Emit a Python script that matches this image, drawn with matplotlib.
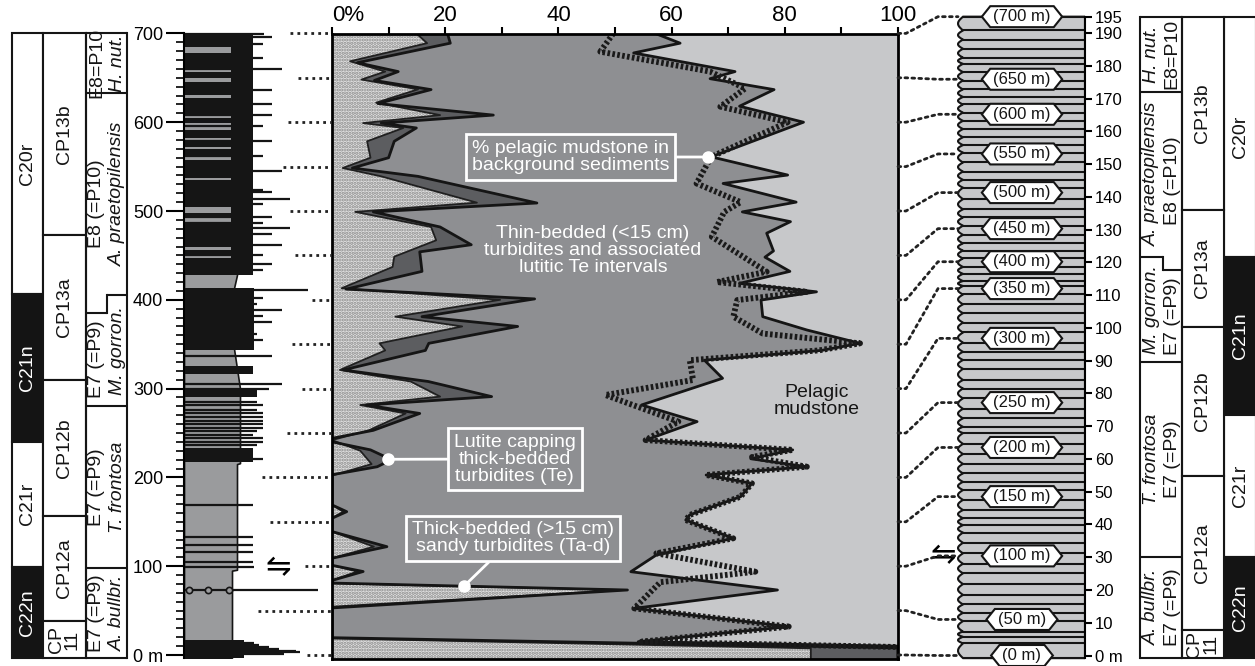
import matplotlib
matplotlib.use('Agg')
import matplotlib.pyplot as plt
from matplotlib.patches import Rectangle, ConnectionPatch
from matplotlib.path import Path
import numpy as np

plt.rcParams['font.family'] = ['Liberation Sans', 'DejaVu Sans']
plt.rcParams['hatch.linewidth'] = 1.6

# ---------------- main panel: facies % against depth (m) ----------------
sand_depth = [700, 689, 668.6, 657, 648, 637, 622, 608, 599, 593.5, 578.5, 560, 548.4, 539,
              509.4, 499, 482, 467, 448.6, 437, 413, 400, 381, 370, 351, 343, 321, 308, 291,
              281.5, 272, 253, 242, 230, 215, 202, 169, 161.4, 154, 139, 122, 109, 101, 94,
              84, 80.7, 73.2, 54.4, 18.7, 7.5, -5]
sand_pct = [14.9, 16.8, 3.2, 9.4, 5.2, 15.2, 7.8, 19.1, 5.5, 12.6, 6.2, 6.8, 1.9, 8.7,
            25.6, 4.1, 17.5, 18.4, 11.0, 10.7, 1.7, 29.7, 11.2, 23.0, 8.4, 9.4, 1.4, 13.9, 19.1,
            5.0, 13.0, 6.5, 0, 5.0, 7.0, 0, 0, 2.0, 0, 0, 7.4, 0, 0, 4.5,
            0, 0, 51.5, 0, 0, 84.6, 84.6]

lutite_depth = [700, 689, 667, 657, 647, 636.7, 621, 608, 599, 593.5, 578.5, 560, 548.4, 539,
                509, 499, 482, 462, 454, 432, 412, 401, 381, 370, 351, 343, 321, 308, 291,
                281.5, 272, 253, 244, 240, 231, 220, 212, 203, 169, 161.4, 154, 139, 122, 109,
                101, 94, 84, 81, 73.2, 53, 19.5, 8, -5]
lutite_pct = [20.4, 20.9, 4.5, 11.7, 7.5, 17.5, 8.1, 28.5, 8.7, 14.9, 11.0, 10.0, 3.6, 15.2,
              36.2, 7.3, 19.1, 24.6, 15.5, 15.9, 2.5, 35.8, 15.9, 32.8, 17.1, 16.5, 2.0, 17.0, 28.2,
              6.1, 15.5, 7.3, 0, 0, 6.8, 10.5, 8.0, 0, 0, 2.6, 0, 0, 9.7, 0,
              0, 5.5, 0, 0, 52.2, 0, 0, 100, 100]

thin_depth = [700, 689, 678, 657, 649, 636.7, 618, 600, 561, 540.5, 531, 510, 499, 488, 475,
              455, 448, 432, 418.5, 409, 399.7, 381, 366, 351, 343, 332, 311.6, 281.6, 262.8,
              242, 231, 221, 212, 202.7, 193.3, 178.3, 157.7, 152, 131.4, 112.6, 93.8, 73.2,
              52.5, 32, 15, 10, -5]
thin_pct = [57.1, 61.5, 53.3, 71.2, 66.8, 78.1, 72.0, 83.3, 67.0, 80.5, 69.1, 82.0, 72.5, 81.0, 76.8,
            78.0, 76.5, 80.9, 72.0, 85.6, 75.8, 76.1, 83.9, 93.3, 86.5, 65.8, 69.0, 54.7, 64.5,
            55.4, 81.4, 74.0, 83.9, 66.1, 74.2, 72.2, 63.2, 62.5, 70.9, 57.3, 52.8, 78.7,
            53.4, 80.7, 54.1, 100, 100]

bg_depth = [700, 679.4, 657, 638, 617.5, 600, 561, 531, 510, 499, 471, 431.6, 420, 409, 399.7,
            381, 362, 351, 343, 332, 309.7, 292.8, 262.8, 242, 231, 223, 212, 202.7, 193.3,
            178.3, 157.7, 152, 131.4, 114.5, 93.8, 82, 52.5, 32, 15, 9]
bg_pct = [49.7, 47.4, 66.8, 73.0, 68.6, 80.5, 67.0, 64.4, 72.2, 69.3, 67.1, 76.8, 68.0, 84.0, 71.6,
          70.9, 76.1, 93.3, 86.0, 63.2, 63.8, 48.3, 61.2, 55.4, 81.4, 74.2, 83.9, 66.1, 74.2,
          72.2, 63.2, 62.5, 70.9, 57.3, 74.8, 58.0, 53.4, 80.7, 54.7, 100]

# ---------------- lithological log ----------------
col_depth = [-3, 95, 96, 215, 216, 300, 345, 413, 428, 700]
col_width = [48, 48, 53, 53, 56, 56, 50, 50, 53, 47]
block_base = [-3, 217, 291, 317, 343, 428]
block_top = [17, 233, 300, 325, 413, 700]
block_ext = [60, 69, 73, 69, 70, 69]
grey_base = [446.7, 456, 488, 497.3, 534.9, 557.4, 569.4, 578, 591.2, 604.3, 626.9, 645.6, 656.9, 677.5]
grey_top = [450.4, 459.8, 493.6, 504.9, 536.8, 563, 572.4, 581.8, 598.7, 608, 630.6, 649.4, 660.7, 685]
bar_depth = [1, 3, 5, 7, 9, 11, 14, 73, 98.7, 105, 116.4, 124, 133, 169, 221, 236, 240, 244,
             248, 252, 256, 260, 264, 268, 272, 276, 281, 285, 300, 304.8, 337, 355, 362, 375,
             382, 389, 395, 402, 411, 433, 440, 451, 462, 474, 481, 486, 493, 508, 513, 521,
             524, 545, 562, 579, 596, 608, 621, 636, 660, 672, 688, 696, 699]
bar_ext = [100, 116, 112, 95, 85, 75, 70, 134, 70, 69, 69, 69, 69, 69, 79, 73, 79, 79,
           69, 73, 79, 79, 79, 79, 79, 73, 79, 73, 85, 98, 88, 79, 73, 88,
           79, 98, 73, 79, 124, 79, 88, 79, 98, 88, 106, 79, 88, 79, 106, 88,
           79, 98, 79, 88, 79, 88, 88, 88, 98, 79, 79, 88, 80]
conn_depth = [0, 50, 100, 150, 200, 250, 300, 350, 400, 450, 500, 550, 600, 650, 700]
conn_start = [123, 74, 121, 86, 78, 103, 118, 108, 128, 111, 106, 99, 104, 114, 106]

# ---------------- thickness column (right) ----------------
bed_bounds = [-0.8, 3.7, 5.7, 7.3, 10.5, 13, 15.6, 18.5, 21.8, 25.1, 28, 31.2, 34.4, 37.5, 39.8,
              41.9, 44.4, 47.5, 50.5, 53, 55.6, 58.5, 61.5, 64.6, 67.9, 69.8, 72.4, 75.3, 78.5,
              81.5, 84.1, 87.5, 90.2, 92.7, 95.5, 98.6, 101.6, 104.5, 107.2, 110.2, 112.8, 114.3,
              116.5, 118.6, 121.2, 123.6, 125.8, 128.4, 131.2, 133.7, 136.2, 139.3, 142.8, 145.2,
              147.7, 150.5, 153.5, 155.8, 158.2, 160.7, 163.2, 165.7, 168.2, 170.5, 172.8, 175.5,
              178.1, 180.6, 182.5, 185.2, 188, 190.8, 195]
label_h = [0, 11.0, 30.4, 48.5, 63.5, 77.2, 96.8, 112.0, 120.2, 130.3, 141.3, 153.1, 165.2, 175.9, 195.0]
right_ticks = [0, 10, 20, 30, 40, 50, 60, 70, 80, 90, 100, 110, 120, 130, 140, 150, 160, 170, 180, 190, 195]

# ---------------- biostratigraphy ----------------
chron_names = ['C20r', 'C21n', 'C21r', 'C22n']
chron_fill = ['white', '#141414', 'white', '#141414']
chron_left = [700, 407, 240, 99.4, -3.4]
chron_right = [195, 121.7, 73.4, 30.2, -0.8]
cp_names = ['CP13b', 'CP13a', 'CP12b', 'CP12a', 'CP\n11']
cp_left = [700, 473, 309.7, 156.5, 38.3, -3.4]
cp_right = [195, 136.0, 100.4, 54.9, 7.8, -0.8]
pf_zone = ['E8=P10', 'E8 (=P10)', 'E7 (=P9)', 'E7 (=P9)', 'E7 (=P9)']
pf_taxon = ['H. nut.', 'A. praetopilensis', 'M. gorron.', 'T. frontosa', 'A. bullbr.']
pf_zone_left = [700, 632.6, 384.8, 280.4, 97.6, -3.4]
pf_taxon_left = [700, 632.6, 405.4, 280.4, 97.6, -3.4]
pf_zone_right = [195, 172.1, 117.7, 89.5, 30.2, -0.8]
pf_taxon_right = [195, 172.1, 121.7, 89.5, 30.2, -0.8]

LIGHT = '#c7c8ca'
MID = '#8e8f92'
DARK = '#5c5d60'
INK = '#151515'

W, H = 1255, 666


def rect(x0, y0, x1, y1):
    return [x0 / W, 1 - y1 / H, (x1 - x0) / W, (y1 - y0) / H]


def depth_at(py):
    return (655 - py) / 0.888


def height_at(py):
    return (655.5 - py) / 3.276


def hexagon(x0, y0, width, height, mutation_size):
    pad = 0.18 * mutation_size
    x0, y0 = x0 - pad, y0 - pad
    w, h = width + 2 * pad, height + 2 * pad
    tip = 0.4 * h
    verts = [(x0, y0), (x0 + w, y0), (x0 + w + tip, y0 + h / 2), (x0 + w, y0 + h),
             (x0, y0 + h), (x0 - tip, y0 + h / 2), (x0, y0)]
    return Path(verts, closed=True)


fig = plt.figure(figsize=(12.55, 6.66), dpi=100)

# ---- main panel ----
ax = fig.add_axes(rect(332, 34, 898, 659))
ax.set_xlim(0, 100)
ax.set_ylim(depth_at(659), depth_at(34))
ax.set_facecolor(LIGHT)
ax.fill([0] + thin_pct + [0], [thin_depth[0]] + thin_depth + [thin_depth[-1]], color=MID, lw=0)
ax.fill([0] + lutite_pct + [0], [lutite_depth[0]] + lutite_depth + [lutite_depth[-1]], color=DARK, lw=0)
ax.fill([0] + sand_pct + [0], [sand_depth[0]] + sand_depth + [sand_depth[-1]],
        facecolor='#e2e2e2', edgecolor='#8a8a8a', hatch='.....', lw=0)
ax.plot(sand_pct, sand_depth, color='#202020', lw=1.3)
ax.plot(lutite_pct, lutite_depth, color=INK, lw=2)
ax.plot(thin_pct, thin_depth, color=INK, lw=2)
ax.plot(bg_pct, bg_depth, color='#1a1a1a', lw=4.2, dashes=(0.45, 0.4))

for s in ax.spines.values():
    s.set_linewidth(2)
ax.xaxis.tick_top()
ax.set_xticks([0, 20, 40, 60, 80, 100])
ax.set_xticklabels(['0%', '20', '40', '60', '80', '100'], fontsize=16)
ax.set_xticks([10, 30, 50, 70, 90], minor=True)
ax.tick_params(axis='x', which='both', direction='out', length=5, width=1.5, pad=1)
ax.get_xticklabels()[0].set_horizontalalignment('left')
ax.set_yticks([])

box = dict(boxstyle='square,pad=0.3', fc=MID, ec='white', lw=2)
arrow = dict(arrowstyle='-', color='white', lw=2, shrinkA=0, shrinkB=0)
ax.annotate('% pelagic mudstone in\nbackground sediments', xy=(66.4, 560.8), xytext=(42.2, 560.8),
            ha='center', va='center', color='white', fontsize=14, linespacing=1.0,
            bbox=box, arrowprops=arrow)
ax.annotate('Lutite capping\nthick-bedded\nturbidites (Te)', xy=(9.95, 220.4), xytext=(32.3, 220.7),
            ha='center', va='center', color='white', fontsize=14, linespacing=1.0,
            bbox=box, arrowprops=arrow)
ax.annotate('Thick-bedded (>15 cm)\nsandy turbidites (Ta-d)', xy=(23.4, 78), xytext=(32.0, 131.2),
            ha='center', va='center', color='white', fontsize=14, linespacing=1.0,
            bbox=box, arrowprops=arrow)
ax.plot([66.4, 9.95, 23.4], [560.8, 220.4, 78], 'o', color='white', ms=8)
ax.text(46.1, 456, 'Thin-bedded (<15 cm)\nturbidites and associated\nlutitic Te intervals',
        ha='center', va='center', color='white', fontsize=14, linespacing=1.0)
ax.text(85.7, 286, 'Pelagic\nmudstone', ha='center', va='center', color=INK, fontsize=14,
        linespacing=1.0)

# ---- lithological log ----
lx = fig.add_axes(rect(184, 25, 332, 662))
lx.set_xlim(0, 148)
lx.set_ylim(depth_at(662), depth_at(25))
lx.patch.set_alpha(0)
for s in ['top', 'right', 'bottom']:
    lx.spines[s].set_visible(False)
lx.spines['left'].set_bounds(-3, 700)
lx.spines['left'].set_linewidth(1.5)
lx.fill_betweenx(col_depth, 0, col_width, color='#9a9b9d', ec=INK, lw=1.2)
for b, t, e in zip(block_base, block_top, block_ext):
    lx.add_patch(Rectangle((0, b), e, t - b, color=INK, lw=0))
for b, t in zip(grey_base, grey_top):
    lx.add_patch(Rectangle((0, b), 47, t - b, color='#9a9b9d', lw=0))
lx.hlines(bar_depth, 0, bar_ext, color=INK, lw=1.6)
lx.plot([0, 48], [73.2, 73.2], ls='--', color=INK, lw=1.2)
lx.plot([5, 24, 45], [73.2, 73.2, 73.2], 'o', mfc='#9a9b9d', mec=INK, ms=4.5, mew=1.2)
for d, s in zip(conn_depth, conn_start):
    lx.plot([s, 148], [d, d], color='#222222', lw=2, ls=(0, (1, 1.5)))
lx.text(94, 98.5, '\u21cb', ha='center', va='center', fontsize=22, family='DejaVu Sans')
lx.set_xticks([])
lx.set_yticks(range(0, 701, 100))
lx.set_yticklabels(['0 m'] + [str(v) for v in range(100, 701, 100)])
lx.set_yticks(range(0, 701, 10), minor=True)
lx.tick_params(axis='y', which='major', length=13, width=1.5, labelsize=13, pad=2)
lx.tick_params(axis='y', which='minor', length=6, width=1.2)
for t in lx.get_yticklabels():
    t.set_fontfamily(['Liberation Sans Narrow', 'Liberation Sans'])

# ---- left biostratigraphy ----
sx = fig.add_axes(rect(0, 25, 140, 662))
sx.set_xlim(0, 140)
sx.set_ylim(depth_at(662), depth_at(25))
sx.axis('off')


def strat_columns(a, chron_b, cp_b, zone_b, taxon_b, xs, taxon_first):
    c0, c1, p0, p1, f0, fm, f1 = xs
    for i, name in enumerate(chron_names):
        top, bot = chron_b[i], chron_b[i + 1]
        a.add_patch(Rectangle((c0, bot), c1 - c0, top - bot, fc=chron_fill[i], ec=INK, lw=1.5))
        a.text((c0 + c1) / 2, (top + bot) / 2, name, rotation=90, ha='center', va='center',
               fontsize=14, color='white' if chron_fill[i] != 'white' else INK)
    for i, name in enumerate(cp_names):
        top, bot = cp_b[i], cp_b[i + 1]
        a.add_patch(Rectangle((p0, bot), p1 - p0, top - bot, fc='white', ec=INK, lw=1.5))
        a.text((p0 + p1) / 2, (top + bot) / 2, name, rotation=90, ha='center', va='center',
               fontsize=14, color=INK, linespacing=0.9)
    a.plot([f0, f0], [zone_b[-1], zone_b[0]], color=INK, lw=1.5)
    a.plot([f1, f1], [zone_b[-1], zone_b[0]], color=INK, lw=1.5)
    if taxon_first:
        tx, zx = (f0, fm), (fm, f1)
    else:
        zx, tx = (f0, fm), (fm, f1)
    a.hlines(zone_b, zx[0], zx[1], color=INK, lw=1.5)
    a.hlines(taxon_b, tx[0], tx[1], color=INK, lw=1.5)
    for zb, tb in zip(zone_b, taxon_b):
        if zb != tb:
            a.plot([fm, fm], [zb, tb], color=INK, lw=1.5)
    for i in range(len(pf_zone)):
        a.text((zx[0] + zx[1]) / 2, (zone_b[i] + zone_b[i + 1]) / 2, pf_zone[i], rotation=90,
               ha='center', va='center', fontsize=14, color=INK)
        a.text((tx[0] + tx[1]) / 2, (taxon_b[i] + taxon_b[i + 1]) / 2, pf_taxon[i], rotation=90,
               ha='center', va='center', fontsize=14, color=INK, style='italic')


strat_columns(sx, chron_left, cp_left, pf_zone_left, pf_taxon_left,
              (11.7, 43.3, 43.3, 86, 86, 107, 127), taxon_first=False)

# ---- thickness column (right) ----
rc = fig.add_axes(rect(925, 5, 1085, 666))
rc.set_xlim(0, 160)
rc.set_ylim(height_at(666), height_at(5))
rc.patch.set_alpha(0)
for s in ['top', 'left', 'bottom']:
    rc.spines[s].set_visible(False)
rc.spines['right'].set_bounds(-0.8, 195)
rc.spines['right'].set_linewidth(1.5)
edge_x, edge_y = [], []
for b0, b1 in zip(bed_bounds[:-1], bed_bounds[1:]):
    t = np.linspace(0, 1, 12)
    edge_x += list(38 - 5 * np.sin(np.pi * t))
    edge_y += list(b0 + t * (b1 - b0))
rc.fill(edge_x + [160, 160], edge_y + [bed_bounds[-1], bed_bounds[0]], fc=LIGHT, ec=INK, lw=1.5)
rc.hlines(bed_bounds, 38, 160, color=INK, lw=1.5)
for m, h in zip(conn_depth, label_h):
    rc.text(97, h, f'({m} m)', ha='center', va='center', fontsize=12, color=INK,
            bbox=dict(boxstyle=hexagon, fc='white', ec=INK, lw=1.5))
rc.text(18, 30.4, '\u21cb', ha='center', va='center', fontsize=22, family='DejaVu Sans')
rc.set_xticks([])
rc.yaxis.tick_right()
rc.set_yticks(right_ticks)
rc.set_yticklabels(['0 m'] + [str(v) for v in right_ticks[1:]])
rc.tick_params(axis='y', length=5, width=1.5, labelsize=12, pad=2)

for d, h in zip(conn_depth, label_h):
    con = ConnectionPatch(xyA=(100, d), coordsA=ax.transData, xyB=(33, h), coordsB=rc.transData,
                          connectionstyle='arc,angleA=0,angleB=180,armA=8,armB=20,rad=0',
                          color='#222222', lw=2, ls=(0, (1, 1.5)))
    fig.add_artist(con)

# ---- right biostratigraphy ----
rs = fig.add_axes(rect(1135, 5, 1255, 666))
rs.set_xlim(0, 120)
rs.set_ylim(height_at(666), height_at(5))
rs.axis('off')
strat_columns(rs, chron_right, cp_right, pf_zone_right, pf_taxon_right,
              (89, 121, 46.7, 89, 5, 28, 46.7), taxon_first=True)

fig.savefig('out.png', dpi=100)
